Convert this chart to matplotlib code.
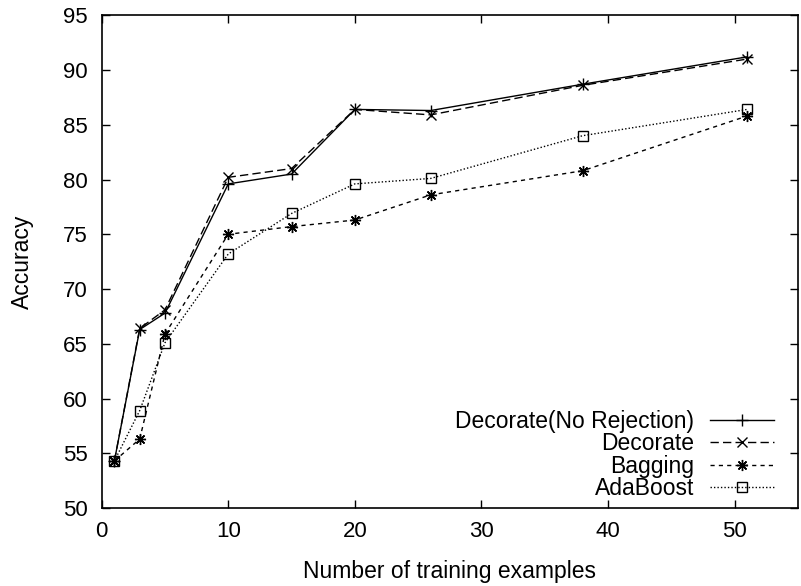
import matplotlib
matplotlib.use("Agg")
import matplotlib.pyplot as plt

plt.rcParams['font.family'] = ['Liberation Sans', 'DejaVu Sans']

n_examples = [1, 3, 5, 10, 15, 20, 26, 38, 51]
decorate_norej = [54.3, 66.3, 67.8, 79.6, 80.5, 86.4, 86.3, 88.7, 91.2]
decorate = [54.3, 66.4, 68.1, 80.2, 81.0, 86.4, 85.9, 88.6, 91.0]
bagging = [54.3, 56.3, 65.9, 75.0, 75.7, 76.3, 78.6, 80.8, 85.8]
adaboost = [54.3, 58.9, 65.1, 73.2, 76.9, 79.6, 80.1, 84.0, 86.4]

fig = plt.figure(figsize=(8.01, 5.86), dpi=100)
ax = fig.add_axes([0.127, 0.133, 0.869, 0.841])

ax.plot(n_examples, decorate_norej, color='black', lw=1, ls='-',
        marker='+', ms=8, mew=1, label='Decorate(No Rejection)')
ax.plot(n_examples, decorate, color='black', lw=1, ls=(0, (6, 3)),
        marker='x', ms=7, mew=1, label='Decorate')
ax.plot(n_examples, bagging, color='black', lw=1, ls=(0, (3, 3)),
        marker=(8, 2, 0), ms=8, mew=1, label='Bagging')
ax.plot(n_examples, adaboost, color='black', lw=1, ls=(0, (1, 1.5)),
        marker='s', ms=7, mew=1, mfc='none', label='AdaBoost')

ax.set_xlim(0, 55)
ax.set_ylim(50, 95)
ax.set_xticks(range(0, 51, 10))
ax.set_yticks(range(50, 96, 5))
ax.tick_params(direction='in', length=6, width=1, top=True, right=True,
               labelsize=16)
ax.tick_params(axis='y', pad=10)
ax.tick_params(axis='x', pad=9)
for s in ax.spines.values():
    s.set_linewidth(1.2)

ax.set_xlabel('Number of training examples', fontsize=16.5, labelpad=13)
ax.set_ylabel('Accuracy', fontsize=16.5, labelpad=21)

ax.legend(loc='lower right', frameon=False, markerfirst=False, fontsize=16.5,
          handlelength=2.8, labelspacing=-0.03, handletextpad=0.7,
          borderaxespad=0.3, bbox_to_anchor=(0.989, -0.016))

fig.savefig('out.png', dpi=100)
